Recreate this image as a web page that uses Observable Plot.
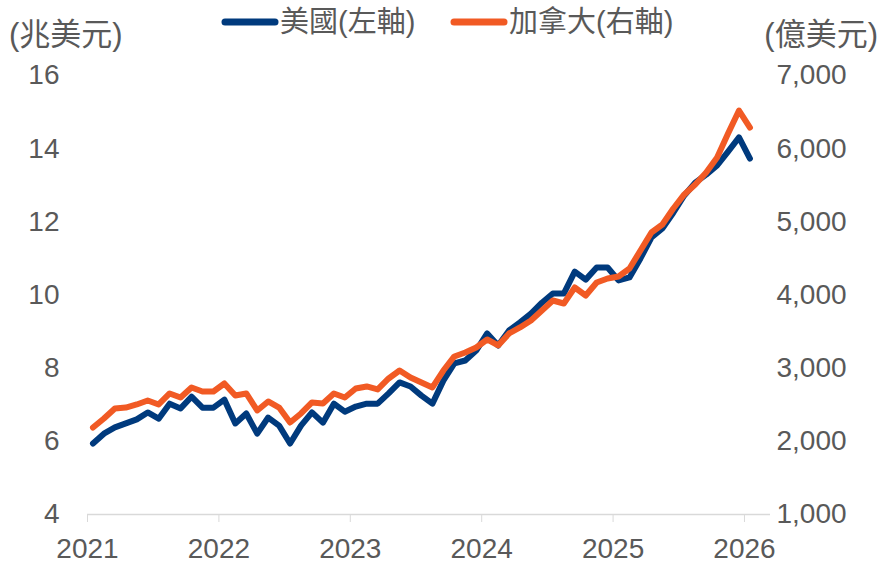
<!DOCTYPE html>
<html><head><meta charset="utf-8">
<script src="https://cdn.jsdelivr.net/npm/d3@7"></script>
<script src="https://cdn.jsdelivr.net/npm/@observablehq/plot@0.6"></script>
<style>
body{margin:0;background:#fff}
svg{font-family:"Liberation Sans","Noto Sans CJK TC",Arial,sans-serif}
</style>
</head><body><div id="chart"></div>
<script>
// Monthly observations, Jan 2021 – Jan 2026
const months = d3.timeMonth.range(new Date(2021,0,1), new Date(2026,1,1)).map(d3.timeFormat("%Y-%m"));
// 美國 (兆美元, left axis)
const usValues = [5.94,6.21,6.38,6.49,6.60,6.79,6.62,7.03,6.90,7.22,6.92,6.92,
  7.14,6.49,6.76,6.21,6.65,6.43,5.94,6.43,6.79,6.51,7.03,6.81,
  6.95,7.03,7.03,7.31,7.61,7.50,7.25,7.03,7.66,8.13,8.21,8.48,
  8.95,8.62,9.03,9.25,9.49,9.79,10.04,10.04,10.64,10.42,10.75,10.75,
  10.40,10.48,11.00,11.57,11.82,12.25,12.72,13.07,13.29,13.54,13.92,14.31,
  13.73];
// 加拿大 (億美元, right axis)
const caValues = [2189,2312,2449,2462,2504,2558,2504,2654,2599,2736,2681,2681,
  2791,2627,2654,2422,2545,2462,2258,2381,2531,2517,2654,2599,
  2722,2750,2709,2859,2968,2873,2804,2736,2968,3160,3214,3283,
  3392,3310,3474,3556,3652,3789,3925,3884,4103,3993,4171,4226,
  4253,4362,4608,4854,4964,5182,5374,5510,5674,5879,6207,6521,
  6289];
const yearTicks = [2021,2022,2023,2024,2025,2026];
const leftTicks = [4,6,8,10,12,14,16];
const rightTicks = [1000,2000,3000,4000,5000,6000,7000];
const seriesNames = ["美國(左軸)","加拿大(右軸)"];
const unitLeft = "(兆美元)";
const unitRight = "(億美元)";

const navy = "#003A7D";
const orange = "#F15A24";
const textColor = "#595959";

// right-axis value -> left-axis value (1,000↔4, 7,000↔16)
const toLeft = r => 4 + (r - 1000) / 500;
const toX = m => { const [y, mo] = m.split("-").map(Number); return y + (mo - 0.5) / 12; };

const us = months.map((m, i) => ({x: toX(m), v: usValues[i]}));
const ca = months.map((m, i) => ({x: toX(m), v: toLeft(caValues[i])}));

const chart = Plot.plot({
  width: 893, height: 564,
  marginLeft: 87, marginRight: 123, marginTop: 75, marginBottom: 50,
  x: {domain: [2021, 2026.198], label: null},
  y: {domain: [4, 16], label: null},
  style: {fontSize: "28px", color: textColor, background: "#fff", fontFamily: '"Liberation Sans","Noto Sans CJK TC",Arial,sans-serif'},
  marks: [
    Plot.ruleY([4], {stroke: "#d9d9d9", strokeWidth: 1.5}),
    Plot.axisX(yearTicks, {tickSize: 8, tickPadding: 16, stroke: "#d9d9d9", fill: textColor, tickFormat: "d", label: null, fontSize: 28}),
    Plot.axisY(leftTicks, {anchor: "left", tickSize: 0, tickPadding: 28, fill: textColor, label: null, fontSize: 28}),
    Plot.axisY(rightTicks.map(toLeft), {anchor: "right", tickSize: 0, tickPadding: 6, fill: textColor, label: null, fontSize: 28,
      tickFormat: (d) => d3.format(",")(1000 + (d - 4) * 500)}),
    Plot.line(us, {x: "x", y: "v", stroke: navy, strokeWidth: 6, strokeLinejoin: "round", strokeLinecap: "round"}),
    Plot.line(ca, {x: "x", y: "v", stroke: orange, strokeWidth: 6, strokeLinejoin: "round", strokeLinecap: "round"})
  ]
});
document.getElementById("chart").append(chart);

// Units and legend (layout annotations)
const svg = d3.select(chart);
const g = svg.append("g").attr("font-size", 29).attr("fill", textColor).attr("text-anchor", "start");
g.append("text").attr("x", 9).attr("y", 34).attr("dy", "0.35em").attr("font-size", 31).attr("text-anchor", "start").text(unitLeft);
g.append("text").attr("x", 878).attr("y", 34).attr("dy", "0.35em").attr("font-size", 31).attr("text-anchor", "end").text(unitRight);
const legend = [{x: 222, color: navy, name: seriesNames[0]}, {x: 451, color: orange, name: seriesNames[1]}];
for (const L of legend) {
  g.append("line").attr("x1", L.x + 3).attr("x2", L.x + 53).attr("y1", 22).attr("y2", 22)
    .attr("stroke", L.color).attr("stroke-width", 7).attr("stroke-linecap", "round");
  g.append("text").attr("x", L.x + 58).attr("y", 22).attr("dy", "0.35em").attr("text-anchor", "start").text(L.name);
}
</script>
</body></html>
